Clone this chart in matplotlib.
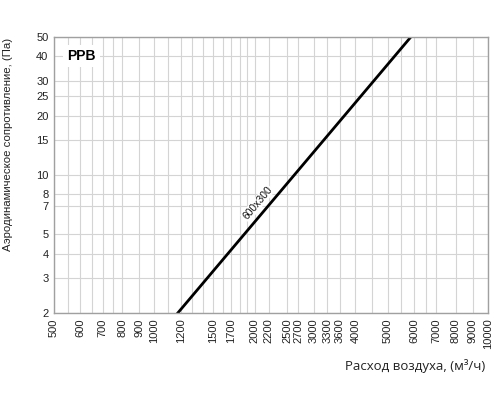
import matplotlib
matplotlib.use("Agg")
import matplotlib.pyplot as plt
from matplotlib.ticker import FixedLocator, NullFormatter

# данные
flow = [1175, 5870]          # расход воздуха, м3/ч
pressure = [2, 50]           # сопротивление, Па
series_label = "600x300"

x_ticks = [500, 600, 700, 800, 900, 1000, 1200, 1500, 1700, 2000, 2200, 2500,
           2700, 3000, 3300, 3600, 4000, 5000, 6000, 7000, 8000, 9000, 10000]
x_minor = [550, 650, 750, 1100, 1300, 1400, 1600, 1800, 1900, 4500, 5500, 6500]
y_ticks = [2, 3, 4, 5, 7, 8, 10, 15, 20, 25, 30, 40, 50]

plt.rcParams['font.family'] = ['Liberation Sans', 'DejaVu Sans']

fig = plt.figure(figsize=(5, 4), dpi=100)
ax = fig.add_axes([0.108, 0.2175, 0.868, 0.69])

ax.set_xscale("log")
ax.set_yscale("log")
ax.set_xlim(500, 10000)
ax.set_ylim(2, 50)

ax.xaxis.set_major_locator(FixedLocator(x_ticks))
ax.xaxis.set_minor_locator(FixedLocator(x_minor))
ax.xaxis.set_minor_formatter(NullFormatter())
ax.set_xticklabels([str(v) for v in x_ticks], rotation=90, fontsize=8, color="#222222")
ax.yaxis.set_major_locator(FixedLocator(y_ticks))
ax.yaxis.set_minor_locator(FixedLocator([]))
ax.set_yticklabels([str(v) for v in y_ticks], fontsize=8, color="#222222")
ax.tick_params(which="both", length=0, pad=4)

ax.grid(True, which="both", color="#d4d4d4", lw=0.8)
ax.set_axisbelow(True)
for s in ax.spines.values():
    s.set_color("#a0a0a0")
    s.set_linewidth(1)

ax.plot(flow, pressure, color="black", lw=2)

ax.text(2040, 7.2, series_label, rotation=50, fontsize=7.5,
        ha="center", va="center", color="#111111",
        bbox=dict(facecolor="white", edgecolor="none", pad=0.5))

ax.text(0.03, 0.93, "PPB", transform=ax.transAxes, fontsize=10, fontweight="bold",
        ha="left", va="center", bbox=dict(facecolor="white", edgecolor="none", pad=3))

fig.text(0.016, 0.64, "Аэродинамическое сопротивление, (Па)", rotation=90,
         fontsize=8.2, ha="center", va="center", color="#222222")
fig.text(0.97, 0.085, "Расход воздуха, (м³/ч)", fontsize=9.5,
         family=["Open Sans", "DejaVu Sans"], ha="right", va="center", color="#222222")

fig.savefig("out.png", dpi=100)
